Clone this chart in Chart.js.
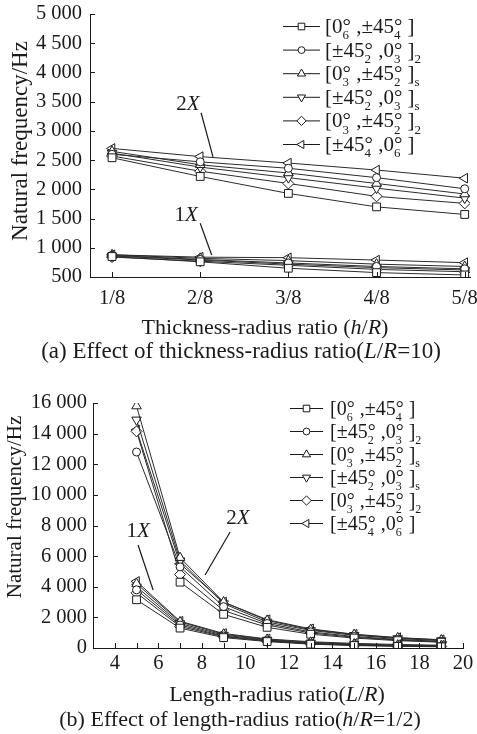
<!DOCTYPE html>
<html>
<head>
<meta charset="utf-8">
<script src="https://cdn.jsdelivr.net/npm/chart.js@4/dist/chart.umd.min.js"></script>
<style>
html, body { margin: 0; padding: 0; background: #fff; }
.panel { position: relative; width: 477px; height: 367px; }
canvas { display: block; }
</style>
</head>
<body>
<div class="panel"><canvas id="chartA" width="477" height="367"></canvas></div>
<div class="panel"><canvas id="chartB" width="477" height="367"></canvas></div>
<script>
const FONT = '"Liberation Serif", "Times New Roman", serif';
const INK = '#1a1a1a';

// lay-up labels ("°_n" = degree with stacked subscript, "_x" = subscript)
const layupLabels = [
  '[0°_6 ,±45°_4 ]',
  '[±45°_2 ,0°_3 ]_2',
  '[0°_3 ,±45°_2 ]_s',
  '[±45°_2 ,0°_3 ]_s',
  '[0°_3 ,±45°_2 ]_2',
  '[±45°_4 ,0°_6 ]'
];
const pointStyles = ['rect', 'circle', 'triangle', 'triangle', 'rectRot', 'triangle'];
const pointRotations = [0, 0, 0, 180, 0, -90];
const pointRadii = [5.5, 4, 5.5, 5.5, 5.5, 5.5];

// (a) thickness-radius ratio, L/R = 10  (x in eighths)
const hrValues = [1, 2, 3, 4, 5];
const hrTickLabels = ['1/8', '2/8', '3/8', '4/8', '5/8'];
const hrYTicks = [500, 1000, 1500, 2000, 2500, 3000, 3500, 4000, 4500, 5000];
const hrFreq1X = [
  [850, 760, 650, 575, 535],
  [870, 800, 740, 680, 640],
  [880, 820, 780, 720, 680],
  [860, 790, 720, 660, 620],
  [840, 770, 700, 630, 590],
  [880, 840, 830, 790, 745]
];
const hrFreq2X = [
  [2540, 2220, 1930, 1700, 1570],
  [2600, 2470, 2360, 2200, 2010],
  [2650, 2420, 2280, 2100, 1920],
  [2620, 2380, 2200, 2020, 1850],
  [2570, 2310, 2100, 1880, 1760],
  [2700, 2560, 2450, 2330, 2190]
];

// (b) length-radius ratio, h/R = 1/2
const lrValues = [5, 7, 9, 11, 13, 15, 17, 19];
const lrTickValues = [4, 6, 8, 10, 12, 14, 16, 18, 20];
const lrMinorTicks = [4, 5, 6, 7, 8, 9, 10, 11, 12, 13, 14, 15, 16, 17, 18, 19, 20];
const lrYTicks = [0, 2000, 4000, 6000, 8000, 10000, 12000, 14000, 16000];
const lrFreq1X = [
  [3150, 1300, 680, 420, 250, 160, 110, 80],
  [3800, 1500, 780, 480, 300, 200, 140, 110],
  [4200, 1700, 900, 560, 370, 260, 190, 150],
  [4000, 1600, 840, 520, 330, 230, 160, 120],
  [3600, 1400, 740, 450, 280, 180, 130, 100],
  [4350, 1750, 950, 590, 410, 300, 230, 180]
];
const lrFreq2X = [
  [null, 4300, 2200, 1350, 900, 650, 480, 380],
  [12800, 5300, 2700, 1600, 1050, 750, 560, 430],
  [15800, 5900, 3000, 1800, 1200, 880, 660, 520],
  [14900, 5700, 2900, 1700, 1150, 830, 620, 480],
  [14150, 4800, 2450, 1500, 980, 700, 520, 400],
  [14250, 5500, 3000, 1850, 1250, 900, 680, 540]
];

function fmtThousands(v) {
  if (v < 1000) return String(v);
  return Math.floor(v / 1000) + ' ' + String(v % 1000).padStart(3, '0');
}

function markerPath(ctx, style, rot, r, x, y) {
  ctx.beginPath();
  if (style === 'circle') {
    ctx.arc(x, y, r, 0, Math.PI * 2);
  } else if (style === 'rect') {
    const s = r * Math.SQRT1_2;
    ctx.rect(x - s, y - s, 2 * s, 2 * s);
  } else if (style === 'rectRot') {
    ctx.moveTo(x, y - r); ctx.lineTo(x + r, y); ctx.lineTo(x, y + r); ctx.lineTo(x - r, y);
    ctx.closePath();
  } else {
    const a = rot * Math.PI / 180;
    for (let i = 0; i < 3; i++) {
      const ang = a + i * 2 * Math.PI / 3;
      const px = x + Math.sin(ang) * r, py = y - Math.cos(ang) * r;
      if (i) ctx.lineTo(px, py); else ctx.moveTo(px, py);
    }
    ctx.closePath();
  }
  ctx.fillStyle = '#fff'; ctx.fill();
  ctx.strokeStyle = INK; ctx.lineWidth = 1; ctx.stroke();
}

// runs: [[text, italic], ...]
function drawRuns(ctx, runs, cx, cy, size) {
  const fonts = runs.map(r => (r[1] ? 'italic ' : '') + size + 'px ' + FONT);
  let total = 0;
  const widths = runs.map((r, i) => { ctx.font = fonts[i]; const w = ctx.measureText(r[0]).width; total += w; return w; });
  let x = cx - total / 2;
  ctx.textAlign = 'left'; ctx.textBaseline = 'middle'; ctx.fillStyle = INK;
  runs.forEach((r, i) => { ctx.font = fonts[i]; ctx.fillText(r[0], x, cy); x += widths[i]; });
}

function drawLayup(ctx, label, x, y, size) {
  const main = size + 'px ' + FONT;
  const small = Math.round(size * 0.6) + 'px ' + FONT;
  const drop = size * 0.3;
  ctx.textAlign = 'left'; ctx.textBaseline = 'alphabetic'; ctx.fillStyle = INK;
  let i = 0;
  while (i < label.length) {
    const c = label[i];
    if (c === '°' && label[i + 1] === '_') {
      ctx.font = main; ctx.fillText('°', x, y); const w1 = ctx.measureText('°').width;
      ctx.font = small; ctx.fillText(label[i + 2], x, y + drop); const w2 = ctx.measureText(label[i + 2]).width;
      x += Math.max(w1, w2); i += 3;
    } else if (c === '_') {
      ctx.font = small; ctx.fillText(label[i + 1], x, y + drop);
      x += ctx.measureText(label[i + 1]).width; i += 2;
    } else {
      ctx.font = main; ctx.fillText(c, x, y); x += ctx.measureText(c).width; i++;
    }
  }
}

const extras = {
  id: 'extras',
  afterDraw(chart, args, o) {
    const ctx = chart.ctx;
    const xs = chart.scales.x, ys = chart.scales.y, area = chart.chartArea;
    ctx.save();
    // inward tick marks
    ctx.strokeStyle = INK; ctx.lineWidth = 1;
    ctx.beginPath();
    o.yTicks.forEach(v => {
      const py = Math.round(ys.getPixelForValue(v)) + 0.5;
      ctx.moveTo(area.left, py); ctx.lineTo(area.left + 5, py);
    });
    o.xTicks.forEach(v => {
      const px = Math.round(xs.getPixelForValue(v)) + 0.5;
      ctx.moveTo(px, area.bottom); ctx.lineTo(px, area.bottom - 5);
    });
    ctx.stroke();
    // y title
    ctx.save();
    ctx.translate(o.yTitle.x, o.yTitle.y);
    ctx.rotate(-Math.PI / 2);
    ctx.font = o.yTitle.size + 'px ' + FONT;
    ctx.fillStyle = INK; ctx.textAlign = 'center'; ctx.textBaseline = 'middle';
    ctx.fillText(o.yTitle.text, 0, 0);
    ctx.restore();
    // x title and caption
    drawRuns(ctx, o.xTitle.runs, o.xTitle.x, o.xTitle.y, o.xTitle.size);
    drawRuns(ctx, o.caption.runs, o.caption.x, o.caption.y, o.caption.size);
    // 1X / 2X callouts
    o.callouts.forEach(c => {
      const tx = xs.getPixelForValue(c.text[0]), ty = ys.getPixelForValue(c.text[1]);
      drawRuns(ctx, [[c.label[0], false], [c.label[1], true]], tx, ty, o.calloutSize);
      ctx.beginPath();
      ctx.moveTo(xs.getPixelForValue(c.from[0]), ys.getPixelForValue(c.from[1]));
      ctx.lineTo(xs.getPixelForValue(c.to[0]), ys.getPixelForValue(c.to[1]));
      ctx.strokeStyle = INK; ctx.lineWidth = 1.2; ctx.stroke();
    });
    // legend
    const L = o.legend;
    layupLabels.forEach((lab, i) => {
      const y = L.y + i * L.step;
      ctx.beginPath();
      ctx.moveTo(L.x0, y + 0.5); ctx.lineTo(L.x1, y + 0.5);
      ctx.strokeStyle = INK; ctx.lineWidth = 1; ctx.stroke();
      markerPath(ctx, pointStyles[i], pointRotations[i], pointRadii[i] * 0.85, (L.x0 + L.x1) / 2, y + 0.5);
      drawLayup(ctx, lab, L.tx, y + L.size * 0.33, L.size);
    });
    ctx.restore();
  }
};

function buildDatasets(xs, f1, f2) {
  const sets = [];
  [f1, f2].forEach(group => group.forEach((ys, i) => {
    sets.push({
      data: xs.map((x, k) => ({ x: x, y: ys[k] })),
      borderColor: '#2b2b2b', borderWidth: 1, tension: 0, fill: false,
      pointStyle: pointStyles[i], rotation: pointRotations[i], pointRotation: pointRotations[i],
      pointRadius: pointRadii[i], pointBackgroundColor: '#fff',
      pointBorderColor: INK, pointBorderWidth: 1, spanGaps: false
    });
  }));
  return sets;
}

function makeChart(id, cfg) {
  return new Chart(document.getElementById(id), {
    type: 'line',
    data: { datasets: buildDatasets(cfg.xValues, cfg.f1, cfg.f2) },
    plugins: [extras],
    options: {
      responsive: false,
      animation: false,
      layout: { padding: cfg.padding },
      plugins: { legend: { display: false }, tooltip: { enabled: false }, extras: cfg.extras },
      scales: {
        x: {
          type: 'linear', min: cfg.xMin, max: cfg.xMax,
          afterBuildTicks: s => { s.ticks = cfg.xTickValues.map(v => ({ value: v })); },
          afterFit: s => { s.height = cfg.xHeight; s.paddingLeft = 0; s.paddingRight = 0; },
          ticks: {
            autoSkip: false, maxRotation: 0, padding: cfg.xPad, color: INK,
            font: { family: FONT, size: cfg.tickSize },
            callback: (v, i) => cfg.xTickLabels[i]
          },
          grid: { display: false, drawTicks: false },
          border: { display: true, color: INK, width: 1 }
        },
        y: {
          min: cfg.yTicks[0], max: cfg.yTicks[cfg.yTicks.length - 1],
          afterBuildTicks: s => { s.ticks = cfg.yTicks.map(v => ({ value: v })); },
          afterFit: s => { s.width = cfg.yWidth; s.paddingTop = 0; s.paddingBottom = 0; },
          ticks: {
            autoSkip: false, padding: cfg.yPad, color: INK,
            font: { family: FONT, size: cfg.tickSize },
            callback: v => fmtThousands(v)
          },
          grid: { display: false, drawTicks: false },
          border: { display: true, color: INK, width: 1 }
        }
      }
    }
  });
}

makeChart('chartA', {
  xValues: hrValues, f1: hrFreq1X, f2: hrFreq2X,
  xMin: 0.75, xMax: 5.06, xTickValues: hrValues, xTickLabels: hrTickLabels,
  yTicks: hrYTicks, padding: { top: 14, right: 7, left: 0, bottom: 0 },
  xHeight: 90, yWidth: 90, xPad: 9, yPad: 8, tickSize: 20.5,
  extras: {
    yTicks: hrYTicks, xTicks: hrValues,
    yTitle: { text: 'Natural frequency/Hz', x: 21, y: 141, size: 23 },
    xTitle: { runs: [['Thickness-radius ratio (', false], ['h', true], ['/', false], ['R', true], [')', false]], x: 265, y: 328, size: 22 },
    caption: { runs: [['(a) Effect of thickness-radius ratio(', false], ['L', true], ['/', false], ['R', true], ['=10)', false]], x: 241, y: 352, size: 23 },
    calloutSize: 21,
    callouts: [
      { label: ['2', 'X'], text: [1.86, 3445], from: [2.01, 3310], to: [2.145, 2555] },
      { label: ['1', 'X'], text: [1.84, 1560], from: [2.0, 1420], to: [2.13, 877] }
    ],
    legend: { x0: 283, x1: 320, tx: 325, y: 26, step: 23.6, size: 21 }
  }
});

makeChart('chartB', {
  xValues: lrValues, f1: lrFreq1X, f2: lrFreq2X,
  xMin: 3, xMax: 20, xTickValues: lrTickValues, xTickLabels: lrTickValues.map(String),
  yTicks: lrYTicks, padding: { top: 36, right: 14, left: 0, bottom: 0 },
  xHeight: 86, yWidth: 93, xPad: 3, yPad: 6, tickSize: 20.5,
  extras: {
    yTicks: lrYTicks, xTicks: lrMinorTicks,
    yTitle: { text: 'Natural frequency/Hz', x: 15, y: 140, size: 21 },
    xTitle: { runs: [['Length-radius ratio(', false], ['L', true], ['/', false], ['R', true], [')', false]], x: 277, y: 328, size: 22 },
    caption: { runs: [['(b) Effect of length-radius ratio(', false], ['h', true], ['/', false], ['R', true], ['=1/2)', false]], x: 240, y: 353, size: 22 },
    calloutSize: 21,
    callouts: [
      { label: ['1', 'X'], text: [5.07, 7640], from: [5.07, 6730], to: [5.76, 3790] },
      { label: ['2', 'X'], text: [9.66, 8490], from: [9.3, 7575], to: [8.15, 4770] }
    ],
    legend: { x0: 290, x1: 323, tx: 330, y: 41, step: 23, size: 20 }
  }
});
</script>
</body>
</html>
